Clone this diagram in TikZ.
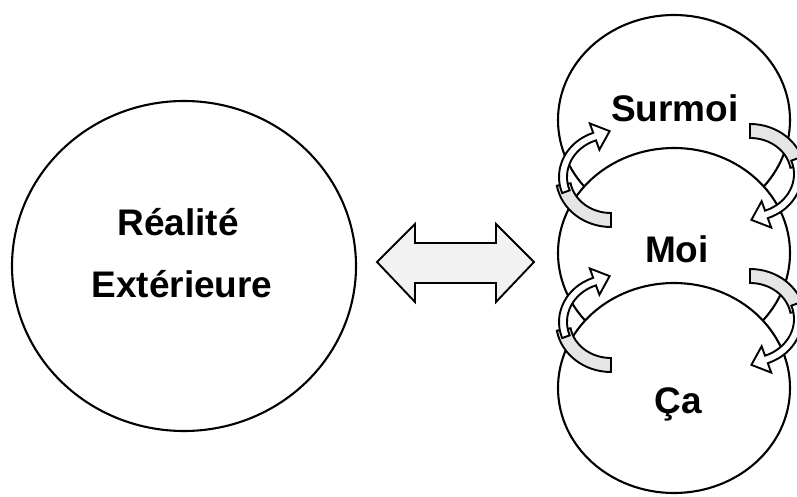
\documentclass[tikz,border=0pt]{standalone}
\usepackage{fontspec}
\setmainfont{Liberation Sans}
\usetikzlibrary{shapes.geometric}

\tikzset{
  psyche/.style={ellipse, draw, line width=2.1pt, fill=white, minimum width=232pt, minimum height=210pt, inner sep=0pt},
  word/.style={anchor=base, font=\bfseries\fontsize{37}{44}\selectfont},
  band/.style={draw, line width=1.9pt, line join=miter},
  looparrow/.pic={
    \draw[band, fill=gray!20] (270:55 and 50) arc[start angle=270, end angle=190, x radius=55, y radius=50]
      -- (190:41 and 36) arc[start angle=190, end angle=270, x radius=41, y radius=36] -- cycle;
    \draw[band, fill=white] (200:52 and 47) arc[start angle=200, end angle=110, x radius=52, y radius=47]
      -- ([shift={(110:14)}]110:48 and 43) -- ([shift={(20:16)}]110:48 and 43)
      -- ([shift={(290:14)}]110:48 and 43)
      -- (110:44 and 39) arc[start angle=110, end angle=200, x radius=44, y radius=39] -- cycle;
  }
}

\begin{document}
\begin{tikzpicture}[x=1pt, y=1pt]
\useasboundingbox (0,0) rectangle (797,496);

% outside world
\node[ellipse, draw, line width=2.1pt, minimum width=344pt, minimum height=330pt] (reality) at (184,230) {};
\node[word] (realite) at (178,261) {Réalité};
\node[word] (exterieure) at (182,199) {Extérieure};

% double arrow
\draw[line width=1.9pt, fill=gray!10] (377,234) -- (415,272) -- (415,253) -- (496,253) -- (496,272)
  -- (534,234) -- (496,194) -- (496,213) -- (415,213) -- (415,194) -- cycle;

% the three instances
\node[psyche] (surmoi) at (674,376) {};
\node[psyche] (moi) at (674,243) {};
\node[psyche] (ca) at (674,108) {};

% exchanges
\pic at (611,319) {looparrow};
\pic[rotate=180] at (750,322) {looparrow};
\pic at (611,174) {looparrow};
\pic[rotate=180] at (750,177) {looparrow};

\node[word] (surmoitext) at (675,374) {Surmoi};
\node[word] (moitext) at (677,234) {Moi};
\node[word] (catext) at (678,83) {Ça};
\end{tikzpicture}
\end{document}
